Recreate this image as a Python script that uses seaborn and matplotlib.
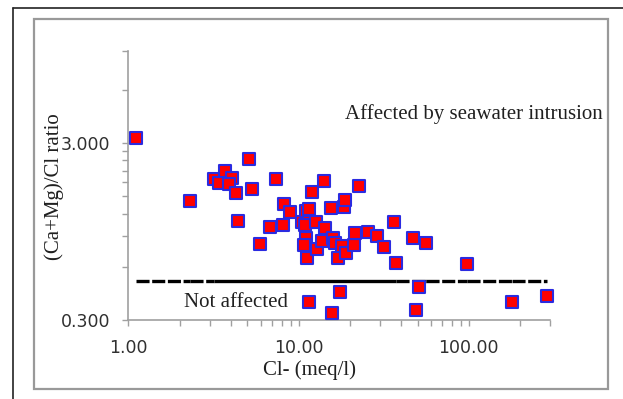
import numpy as np
import pandas as pd
import matplotlib
matplotlib.use("Agg")
import matplotlib.pyplot as plt
from matplotlib.lines import Line2D
from matplotlib.patches import Rectangle
from matplotlib.ticker import FixedLocator, NullFormatter
import seaborn as sns

# ---- data ----
cl = [1.11, 2.29, 3.17, 3.42, 3.71, 4.09, 3.91, 4.29, 4.43, 5.15, 5.35, 5.92,
      6.81, 7.34, 8.09, 8.26, 8.91, 10.47, 11.04, 11.46, 11.5, 10.86, 11.1,
      10.74, 11.2, 11.97, 12.6, 12.8, 14.1, 14.4, 13.8, 15.5, 15.9, 16.3,
      17.1, 17.9, 18.5, 18.8, 19.1, 21.3, 21.5, 22.6, 25.5, 29.0, 31.8, 36.6,
      37.4, 47.1, 56.0, 97.7, 11.5, 15.7, 17.6, 48.9, 50.8, 179.0, 288.0]
ratio = [3.22, 1.41, 1.89, 1.78, 2.10, 1.91, 1.76, 1.56, 1.09, 2.44, 1.65, 0.81,
         1.01, 1.87, 1.03, 1.36, 1.23, 1.07, 1.24, 1.27, 1.08, 1.03, 0.87,
         0.80, 0.67, 1.58, 1.08, 0.76, 1.84, 0.99, 0.84, 1.29, 0.87, 0.82,
         0.67, 0.79, 1.31, 1.44, 0.72, 0.80, 0.93, 1.72, 0.94, 0.89, 0.78, 1.07,
         0.63, 0.87, 0.82, 0.62, 0.38, 0.33, 0.43, 0.34, 0.46, 0.38, 0.41]
threshold = 0.5
x_ticks = [1, 10, 100]
x_tick_labels = ["1.00", "10.00", "100.00"]
y_ticks = [0.3, 3.0]
y_tick_labels = ["0.300", "3.000"]
x_label = "Cl- (meq/l)"
y_label = "(Ca+Mg)/Cl ratio"
label_above = "Affected by seawater intrusion"
label_below = "Not affected"

df = pd.DataFrame({"cl": cl, "ratio": ratio})

sns.set_style("white")
plt.rcParams["lines.scale_dashes"] = False

W, H = 623, 399
AX_L, AX_R, AX_T, AX_B = 128.3, 550.0, 50.7, 320.0
fig = plt.figure(figsize=(W / 100, H / 100), dpi=100)
ax = fig.add_axes([AX_L / W, 1 - AX_B / H, (AX_R - AX_L) / W, (AX_B - AX_T) / H])
ax.set_xscale("log")
ax.set_yscale("log")
ax.set_xlim(1, 300)
ax.set_ylim(0.3, 10)

# threshold line: a line through the sorted Cl values whose dash pattern
# restarts at each vertex (short segments look solid, long ones dashed)
DASH_PX = 13.0
px_per_decade = (AX_R - AX_L) / np.log10(300 / 1)
xs = sorted(set(cl))
solid_run = [xs[0]]
for a, b in zip(xs[:-1], xs[1:]):
    seg_px = np.log10(b / a) * px_per_decade
    if seg_px <= DASH_PX:
        solid_run.append(b)
    else:
        if len(solid_run) > 1:
            ax.plot(solid_run, [threshold] * len(solid_run), color="black",
                    lw=2.4, solid_capstyle="butt", zorder=2)
        ax.plot([a, b], [threshold, threshold], color="black", lw=2.4,
                dashes=(9.4, 1.9), dash_capstyle="butt", zorder=2)
        solid_run = [b]
if len(solid_run) > 1:
    ax.plot(solid_run, [threshold] * len(solid_run), color="black",
            lw=2.4, solid_capstyle="butt", zorder=2)

sns.scatterplot(data=df, x="cl", y="ratio", ax=ax, marker="s", s=74,
                color="#ff0000", edgecolor="#2b2be0", linewidth=1.5, zorder=3,
                legend=False, clip_on=False)

# axes styling
for side in ["top", "right"]:
    ax.spines[side].set_visible(False)
for side in ["left", "bottom"]:
    ax.spines[side].set_color("#a0a0a0")
    ax.spines[side].set_linewidth(1.2)

ax.xaxis.set_major_locator(FixedLocator(x_ticks))
ax.set_xticklabels(x_tick_labels)
ax.xaxis.set_minor_locator(FixedLocator(
    [m * d for d in (1, 10, 100) for m in range(2, 10) if m * d < 300] + [300]))
ax.xaxis.set_minor_formatter(NullFormatter())
ax.yaxis.set_major_locator(FixedLocator(y_ticks))
ax.set_yticklabels(y_tick_labels)
ax.yaxis.set_minor_locator(FixedLocator([0.3 * k for k in range(2, 10)] + [6, 10]))
ax.yaxis.set_minor_formatter(NullFormatter())
ax.tick_params(which="both", direction="out", length=4, width=1,
               color="#a0a0a0", bottom=True, left=True)
ax.tick_params(axis="x", which="major", pad=10, labelsize=12.5, labelcolor="#303030")
ax.tick_params(axis="y", which="major", pad=9, labelsize=12.5, labelcolor="#303030")
for lab in ax.get_xticklabels() + ax.get_yticklabels():
    lab.set_fontfamily("DejaVu Sans")

serif = "Liberation Serif"
ax.set_xlabel(x_label, fontfamily=serif, fontsize=15, color="#202020")
ax.xaxis.set_label_coords((309 - AX_L) / (AX_R - AX_L), -(370 - AX_B) / (AX_B - AX_T))
ax.xaxis.label.set_va("center")
ax.set_ylabel(y_label, fontfamily=serif, fontsize=15, color="#202020")
ax.yaxis.set_label_coords(-(AX_L - 54) / (AX_R - AX_L), 0.496)
ax.yaxis.label.set_va("center")

ax.text(107, 4.39, label_above, fontfamily=serif, fontsize=15, color="#202020",
        ha="center", va="center", clip_on=False)
ax.text(4.3, 0.378, label_below, fontfamily=serif, fontsize=15, color="#202020",
        ha="center", va="center", clip_on=False)

# chart frames
fig.add_artist(Rectangle((34 / W, 1 - 389 / H), (608 - 34) / W, (389 - 19) / H,
                         transform=fig.transFigure, fill=False,
                         edgecolor="#999999", lw=1.6))
fig.add_artist(Line2D([13 / W, 13 / W], [0, 1 - 8 / H], transform=fig.transFigure,
                      color="#222222", lw=1.2))
fig.add_artist(Line2D([13 / W, 1], [1 - 8 / H, 1 - 8 / H], transform=fig.transFigure,
                      color="#222222", lw=1.2))

fig.savefig("out.png", dpi=100, facecolor="white")
